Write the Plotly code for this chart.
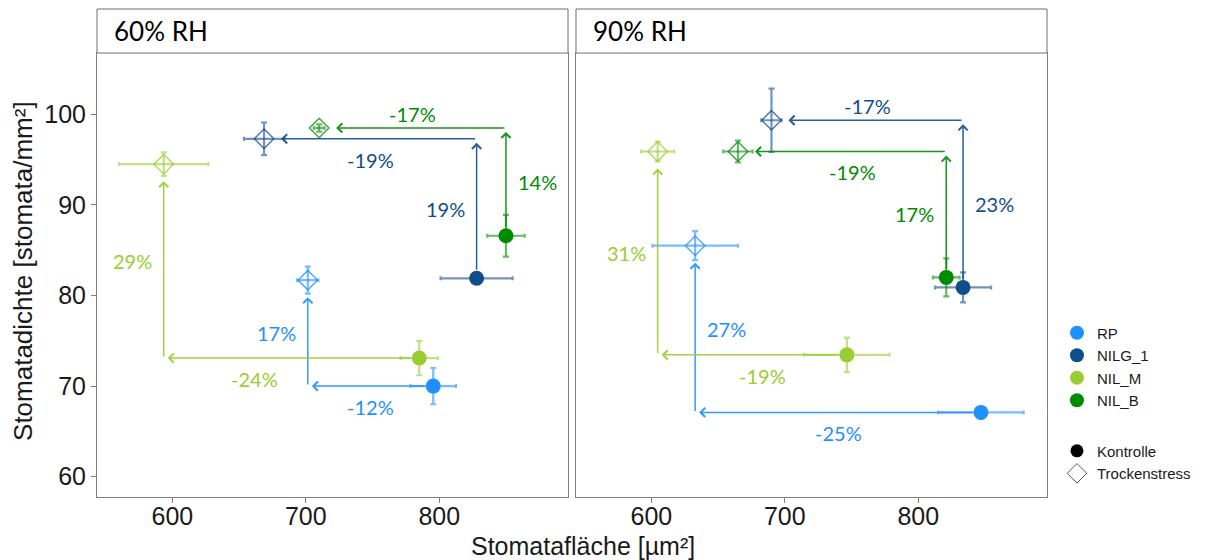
import plotly.graph_objects as go

# ---------------- data ----------------
genotypes = ["RP", "NILG_1", "NIL_M", "NIL_B"]
colors = {"RP": "#1E90FF", "NILG_1": "#104E8B", "NIL_M": "#9ACD32", "NIL_B": "#008B00"}
panels = ["60% RH", "90% RH"]

# 60% RH
ctrl_x_60 = [795.5, 828.0, 785.0, 850.0]
ctrl_y_60 = [70.0, 81.9, 73.1, 86.6]
ctrl_ex_60 = [17, 27, 14, 14]
ctrl_ey_60 = [2.0, 0.6, 1.9, 2.3]
troc_x_60 = [701.5, 668.7, 593.5, 710.0]
troc_y_60 = [81.7, 97.3, 94.5, 98.5]
troc_ex_60 = [8, 15, 33.5, 4]
troc_ey_60 = [1.5, 1.8, 1.3, 0.4]
area_pct_60 = ["-12%", "-19%", "-24%", "-17%"]
dens_pct_60 = ["17%", "19%", "29%", "14%"]

# 90% RH
ctrl_x_90 = [847.0, 833.6, 746.5, 821.0]
ctrl_y_90 = [67.1, 80.9, 73.45, 82.0]
ctrl_ex_90 = [32, 21, 32, 10]
ctrl_ey_90 = [0.4, 1.65, 1.9, 2.1]
troc_x_90 = [632.8, 690.0, 604.7, 664.9]
troc_y_90 = [85.5, 99.35, 95.9, 95.9]
troc_ex_90 = [32, 7.6, 12.4, 11]
troc_ey_90 = [1.6, 3.5, 1.1, 1.2]
area_pct_90 = ["-25%", "-17%", "-19%", "-19%"]
dens_pct_90 = ["27%", "23%", "31%", "17%"]

x_ticks = [600, 700, 800]
y_ticks = [60, 70, 80, 90, 100]

# arrow routing: 'h' = horizontal first, 'v' = vertical first
route = {"RP": "h", "NILG_1": "v", "NIL_M": "h", "NIL_B": "v"}
# label sides / nudges (style)
h_side_60 = ["below", "below", "below", "above"]
v_side_60 = ["left", "left", "left", "right"]
h_nudge_60 = [0, 0, -28, 0]
h_side_90 = ["below", "above", "below", "below"]
v_side_90 = ["right", "right", "left", "left"]
h_nudge_90 = [0, 0, 8, 8]

data = {
    "60% RH": dict(cx=ctrl_x_60, cy=ctrl_y_60, cex=ctrl_ex_60, cey=ctrl_ey_60,
                   tx=troc_x_60, ty=troc_y_60, tex=troc_ex_60, tey=troc_ey_60,
                   ap=area_pct_60, dp=dens_pct_60, hs=h_side_60, vs=v_side_60, hn=h_nudge_60),
    "90% RH": dict(cx=ctrl_x_90, cy=ctrl_y_90, cex=ctrl_ex_90, cey=ctrl_ey_90,
                   tx=troc_x_90, ty=troc_y_90, tex=troc_ex_90, tey=troc_ey_90,
                   ap=area_pct_90, dp=dens_pct_90, hs=h_side_90, vs=v_side_90, hn=h_nudge_90),
}


def rgba(hexc, a):
    h = hexc.lstrip("#")
    r, g, b = int(h[0:2], 16), int(h[2:4], 16), int(h[4:6], 16)
    return f"rgba({r},{g},{b},{a})"


fig = go.Figure()
annotations = []
LBL_FONT = dict(family="Lato, Open Sans, sans-serif", size=20)

for pi, panel in enumerate(panels):
    d = data[panel]
    xr = "x" if pi == 0 else "x2"
    yr = "y" if pi == 0 else "y2"
    for gi, g in enumerate(genotypes):
        c = colors[g]
        cx, cy, tx, ty = d["cx"][gi], d["cy"][gi], d["tx"][gi], d["ty"][gi]
        # control
        fig.add_trace(go.Scatter(
            x=[cx], y=[cy], xaxis=xr, yaxis=yr, mode="markers", showlegend=False,
            marker=dict(symbol="circle", size=15, color=c),
            error_x=dict(type="data", array=[d["cex"][gi]], color=rgba(c, 0.6), thickness=2.2, width=2),
            error_y=dict(type="data", array=[d["cey"][gi]], color=rgba(c, 0.6), thickness=2.2, width=3),
            hoverinfo="skip"))
        # drought
        fig.add_trace(go.Scatter(
            x=[tx], y=[ty], xaxis=xr, yaxis=yr, mode="markers", showlegend=False,
            marker=dict(symbol="diamond-open", size=15, color=rgba(c, 0.75), line=dict(width=1.5)),
            error_x=dict(type="data", array=[d["tex"][gi]], color=rgba(c, 0.6), thickness=2.2, width=2),
            error_y=dict(type="data", array=[d["tey"][gi]], color=rgba(c, 0.6), thickness=2.2, width=3),
            hoverinfo="skip"))

        # arrows
        if route[g] == "h":
            corner = (tx, cy)
        else:
            corner = (cx, ty)
        arr = dict(xref=xr, yref=yr, axref=xr, ayref=yr, text="", showarrow=True,
                   arrowhead=4, arrowsize=1.2, arrowwidth=1.5, arrowcolor=rgba(c, 0.9))
        annotations.append(dict(arr, x=corner[0], y=corner[1], ax=cx, ay=cy,
                                standoff=4, startstandoff=7))
        annotations.append(dict(arr, x=tx, y=ty, ax=corner[0], ay=corner[1],
                                standoff=17))

        # labels
        hy = cy if route[g] == "h" else ty
        hx = (cx + tx) / 2 + d["hn"][gi]
        above = d["hs"][gi] == "above"
        annotations.append(dict(xref=xr, yref=yr, x=hx, y=hy, text=d["ap"][gi], showarrow=False,
                                font=dict(LBL_FONT, color=c), xanchor="center", yanchor="middle",
                                yshift=14 if above else -21))
        vx = tx if route[g] == "h" else cx
        vy = (cy + ty) / 2
        left = d["vs"][gi] == "left"
        annotations.append(dict(xref=xr, yref=yr, x=vx, y=vy, text=d["dp"][gi], showarrow=False,
                                font=dict(LBL_FONT, color=c),
                                xanchor="right" if left else "left", yanchor="middle",
                                xshift=-10 if left else 10))

# legend dummies
for g in genotypes:
    fig.add_trace(go.Scatter(x=[None], y=[None], mode="markers", name=g, legend="legend",
                             marker=dict(symbol="circle", size=14, color=colors[g])))
fig.add_trace(go.Scatter(x=[None], y=[None], mode="markers", name="Kontrolle", legend="legend2",
                         marker=dict(symbol="circle", size=13, color="black")))
fig.add_trace(go.Scatter(x=[None], y=[None], mode="markers", name="Trockenstress", legend="legend2",
                         marker=dict(symbol="diamond-open", size=15, color="#555", line=dict(width=1))))

# strips
dom_l = [0, 0.4958]
dom_r = [0.5042, 1]
strip_y0 = 0.9098
shapes = []
for dom, lab in zip([dom_l, dom_r], panels):
    shapes.append(dict(type="rect", xref="paper", yref="paper", x0=dom[0], x1=dom[1],
                       y0=strip_y0, y1=1, line=dict(color="#6e6e6e", width=1), fillcolor="white"))
    annotations.append(dict(xref="paper", yref="paper", x=dom[0] + 0.0155, y=(strip_y0 + 1) / 2,
                            text=lab, showarrow=False, xanchor="left", yanchor="middle",
                            font=dict(family="Lato, Open Sans, sans-serif", size=26, color="black")))

# axis titles
AX_FONT = "Liberation Sans, Arial, sans-serif"
annotations.append(dict(xref="paper", yref="paper", x=0.512, y=-0.100, text="Stomatafläche [µm²]",
                        showarrow=False, xanchor="center", yanchor="middle",
                        font=dict(family=AX_FONT, size=25, color="#1a1a1a")))
annotations.append(dict(xref="paper", yref="paper", x=-0.078, y=0.463, text="Stomatadichte [stomata/mm²]",
                        showarrow=False, xanchor="center", yanchor="middle", textangle=-90,
                        font=dict(family=AX_FONT, size=26, color="#1a1a1a")))

xrange = [543.5, 896.5]
yrange = [57.76, 106.77]
axcommon = dict(showgrid=False, zeroline=False, showline=True, mirror=True, linecolor="#7f7f7f",
                linewidth=1, ticks="outside", ticklen=5, tickcolor="#7f7f7f",
                tickfont=dict(family=AX_FONT, size=25, color="#1a1a1a"))

fig.update_layout(
    width=1211, height=560,
    margin=dict(l=97, r=164, t=9, b=63),
    paper_bgcolor="white", plot_bgcolor="white",
    xaxis=dict(axcommon, domain=dom_l, range=xrange, tickvals=x_ticks, anchor="y",
               ticklabelstandoff=-8),
    xaxis2=dict(axcommon, domain=dom_r, range=xrange, tickvals=x_ticks, anchor="y2",
                ticklabelstandoff=-8),
    yaxis=dict(axcommon, domain=[0, strip_y0], range=yrange, tickvals=y_ticks, anchor="x"),
    yaxis2=dict(axcommon, domain=[0, strip_y0], range=yrange, tickvals=y_ticks, anchor="x2",
                showticklabels=False, ticks=""),
    legend=dict(x=1.0105, y=0.37, xanchor="left", yanchor="top",
                font=dict(family=AX_FONT, size=15, color="#1a1a1a"), bgcolor="rgba(0,0,0,0)"),
    legend2=dict(x=1.0105, y=0.128, xanchor="left", yanchor="top",
                 font=dict(family=AX_FONT, size=15, color="#1a1a1a"), bgcolor="rgba(0,0,0,0)"),
    annotations=annotations, shapes=shapes, showlegend=True,
)

fig.write_html("out.html")
